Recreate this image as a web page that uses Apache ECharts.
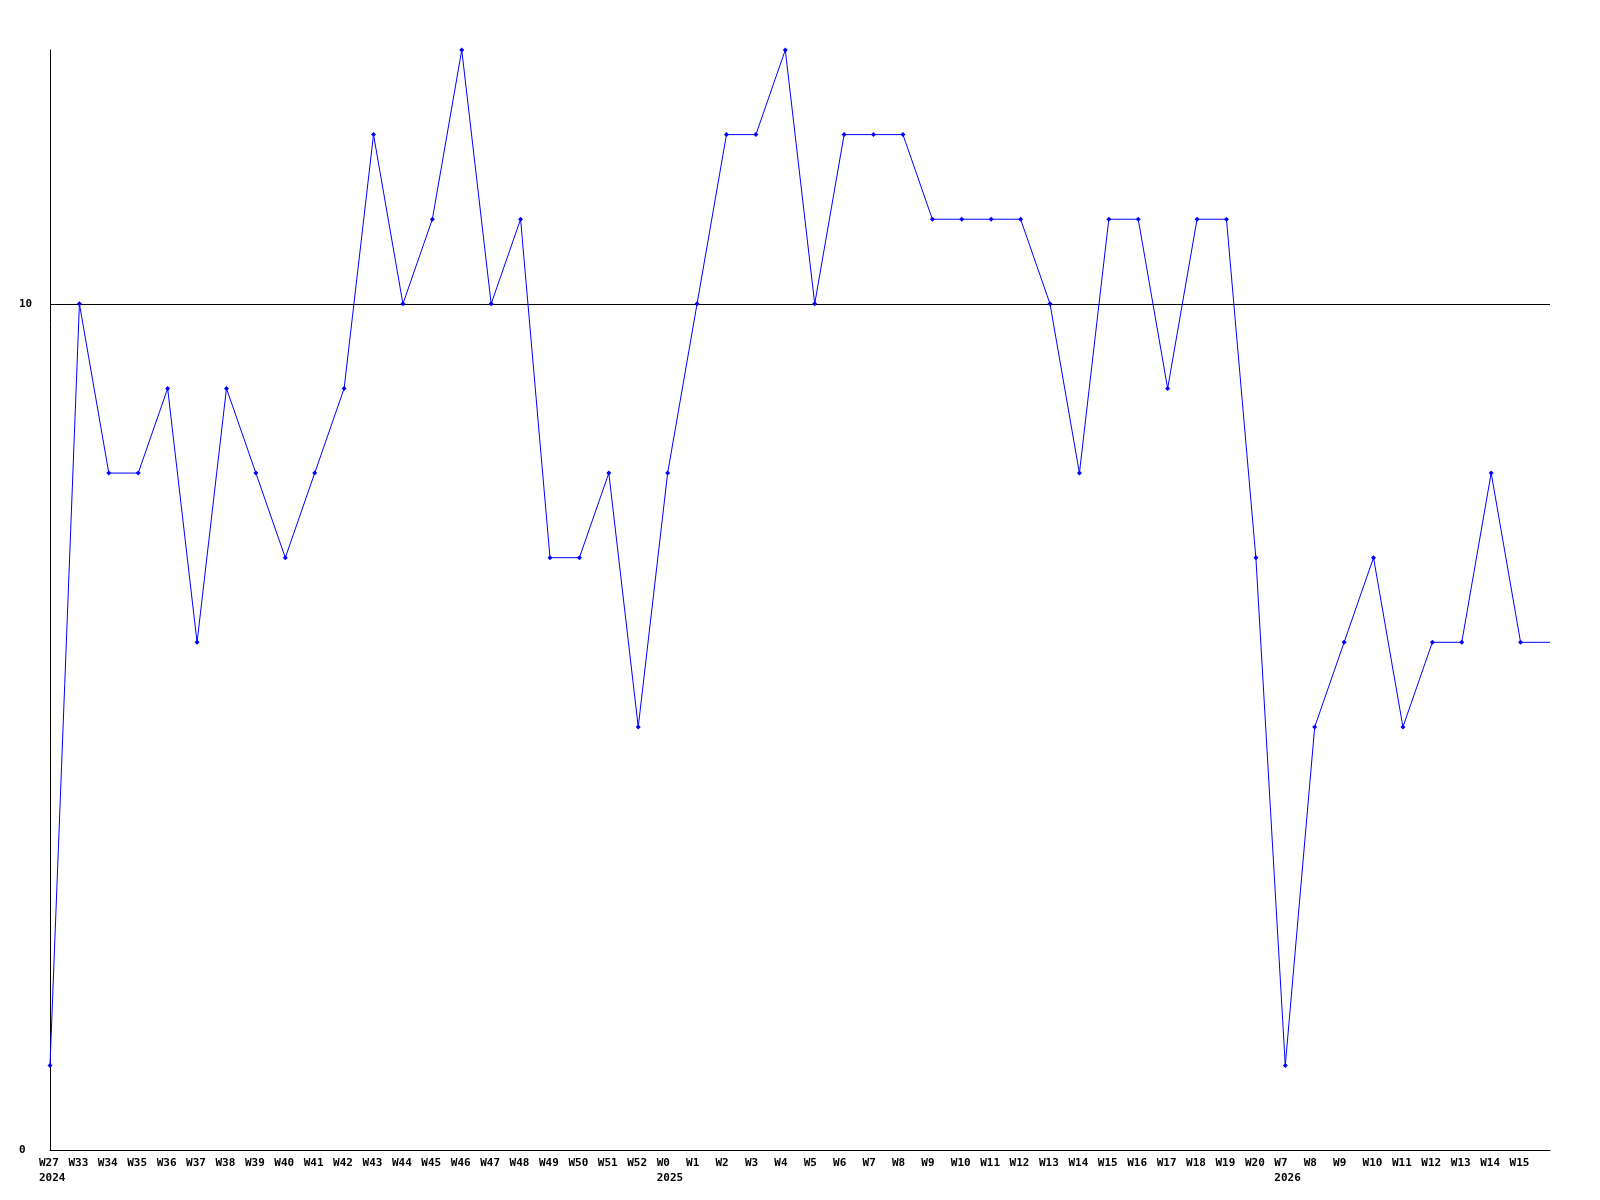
<!DOCTYPE html>
<html>
<head>
<meta charset="utf-8">
<script src="https://cdn.jsdelivr.net/npm/echarts@6/dist/echarts.min.js"></script>
<style>html,body{margin:0;padding:0;background:#fff}#c{width:1600px;height:1200px}</style>
</head>
<body>
<div id="c"></div>
<script>
const weeks = ['W27','W33','W34','W35','W36','W37','W38','W39','W40','W41','W42','W43','W44','W45','W46','W47','W48','W49','W50','W51','W52',
  'W0','W1','W2','W3','W4','W5','W6','W7','W8','W9','W10','W11','W12','W13','W14','W15','W16','W17','W18','W19','W20',
  'W7','W8','W9','W10','W11','W12','W13','W14','W15',''];
const yearStarts = [0, 21, 42];
const yearNames = ['2024', '2025', '2026'];
const values = [1,10,8,8,9,6,9,8,7,8,9,12,10,11,13,10,11,7,7,8,5,8,10,12,12,13,10,12,12,12,11,11,11,11,10,8,11,11,9,11,11,7,1,5,6,7,5,6,6,8,6,6];
const yTicks = [0, 10];

const FONT = 'DejaVu Sans Mono';
const chart = echarts.init(document.getElementById('c'), null, {renderer: 'canvas'});
const seriesData = values.map((v, i) => (weeks[i] === '' ? {value: v, symbol: 'none'} : v));

chart.setOption({
  animation: false,
  backgroundColor: '#ffffff',
  grid: {left: 50, right: 50, top: 50, bottom: 50, containLabel: false},
  xAxis: {
    type: 'category',
    boundaryGap: false,
    data: weeks,
    axisLine: {show: true, lineStyle: {color: '#000', width: 1}},
    axisTick: {show: false},
    splitLine: {show: false},
    axisLabel: {
      interval: 0,
      margin: 6,
      color: '#000',
      fontFamily: FONT,
      fontWeight: 'bold',
      fontSize: 11,
      lineHeight: 15,
      formatter: function (val, idx) {
        if (val === '') return '';
        const yi = yearStarts.indexOf(idx);
        let s = '{a|' + val + '}';
        if (yi >= 0) s += '\n{a|' + yearNames[yi] + '}';
        return s;
      },
      rich: {
        a: {width: 22, align: 'left', fontFamily: FONT, fontWeight: 'bold', fontSize: 11, lineHeight: 15, color: '#000'}
      }
    }
  },
  yAxis: {
    type: 'value',
    min: 0,
    max: 13,
    interval: 10,
    axisLine: {show: true, lineStyle: {color: '#000', width: 1}},
    axisTick: {show: false},
    axisLabel: {
      showMaxLabel: false,
      align: 'left',
      margin: 31,
      color: '#000',
      fontFamily: FONT,
      fontWeight: 'bold',
      fontSize: 11,
      formatter: function (v) { return yTicks.indexOf(v) >= 0 ? String(v) : ''; }
    },
    splitLine: {show: true, showMaxLine: false, lineStyle: {color: '#000', width: 1}}
  },
  series: [{
    type: 'line',
    data: seriesData,
    clip: false,
    symbol: 'diamond',
    symbolSize: 5,
    showSymbol: true,
    lineStyle: {color: '#0000ff', width: 1},
    itemStyle: {color: '#0000ff'},
    emphasis: {disabled: true}
  }]
});
</script>
</body>
</html>
